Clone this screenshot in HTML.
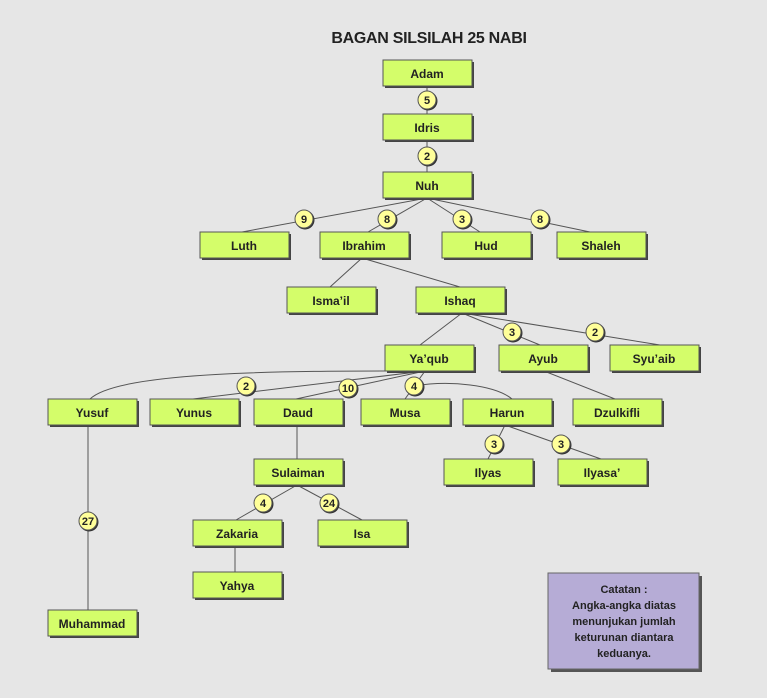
<!DOCTYPE html>
<html><head><meta charset="utf-8"><style>
html,body{margin:0;padding:0;background:#e6e6e6;}
svg{display:block;}
text{font-family:"Liberation Sans",sans-serif;font-weight:bold;fill:#222;}
</style></head><body>
<svg width="767" height="698" viewBox="0 0 767 698" xmlns="http://www.w3.org/2000/svg">
<rect width="767" height="698" fill="#e6e6e6"/>
<text x="429" y="43" text-anchor="middle" font-size="16" style="letter-spacing:-0.3px">BAGAN SILSILAH 25 NABI</text>
<g stroke="#555" stroke-width="1" fill="none">
<line x1="427" y1="86" x2="427" y2="114"/>
<line x1="427" y1="140" x2="427" y2="172"/>
<line x1="427" y1="198" x2="242" y2="232"/>
<line x1="427" y1="198" x2="368" y2="232"/>
<line x1="427" y1="198" x2="480" y2="232"/>
<line x1="427" y1="198" x2="590" y2="232"/>
<line x1="362" y1="258" x2="330" y2="287"/>
<line x1="362" y1="258" x2="460" y2="287"/>
<line x1="462" y1="313" x2="420" y2="345"/>
<line x1="462" y1="313" x2="540" y2="345"/>
<line x1="462" y1="313" x2="660" y2="345"/>
<path d="M425,371 C300,371 120,370 90,399"/>
<line x1="425" y1="371" x2="193" y2="399"/>
<line x1="425" y1="371" x2="296" y2="399"/>
<line x1="425" y1="371" x2="405" y2="399"/>
<path d="M414,386 C450,380 495,385 512,399"/>
<line x1="544" y1="371" x2="615" y2="399"/>
<line x1="505" y1="425" x2="488" y2="459"/>
<line x1="505" y1="425" x2="601" y2="459"/>
<line x1="297" y1="425" x2="297" y2="459"/>
<line x1="297" y1="485" x2="236" y2="520"/>
<line x1="297" y1="485" x2="362" y2="520"/>
<line x1="235" y1="546" x2="235" y2="572"/>
<line x1="88" y1="425" x2="88" y2="610"/>
</g>
<g font-size="12" text-anchor="middle">
<g>
<rect x="385" y="62" width="89" height="26" fill="#444"/><rect x="383" y="60" width="89" height="26" fill="#d4fd6a" stroke="#555"/><text x="427" y="78">Adam</text>
<rect x="385" y="116" width="89" height="26" fill="#444"/><rect x="383" y="114" width="89" height="26" fill="#d4fd6a" stroke="#555"/><text x="427" y="132">Idris</text>
<rect x="385" y="174" width="89" height="26" fill="#444"/><rect x="383" y="172" width="89" height="26" fill="#d4fd6a" stroke="#555"/><text x="427" y="190">Nuh</text>
<rect x="202" y="234" width="89" height="26" fill="#444"/><rect x="200" y="232" width="89" height="26" fill="#d4fd6a" stroke="#555"/><text x="244" y="250">Luth</text>
<rect x="322" y="234" width="89" height="26" fill="#444"/><rect x="320" y="232" width="89" height="26" fill="#d4fd6a" stroke="#555"/><text x="364" y="250">Ibrahim</text>
<rect x="444" y="234" width="89" height="26" fill="#444"/><rect x="442" y="232" width="89" height="26" fill="#d4fd6a" stroke="#555"/><text x="486" y="250">Hud</text>
<rect x="559" y="234" width="89" height="26" fill="#444"/><rect x="557" y="232" width="89" height="26" fill="#d4fd6a" stroke="#555"/><text x="601" y="250">Shaleh</text>
<rect x="289" y="289" width="89" height="26" fill="#444"/><rect x="287" y="287" width="89" height="26" fill="#d4fd6a" stroke="#555"/><text x="331" y="305">Isma’il</text>
<rect x="418" y="289" width="89" height="26" fill="#444"/><rect x="416" y="287" width="89" height="26" fill="#d4fd6a" stroke="#555"/><text x="460" y="305">Ishaq</text>
<rect x="387" y="347" width="89" height="26" fill="#444"/><rect x="385" y="345" width="89" height="26" fill="#d4fd6a" stroke="#555"/><text x="429" y="363">Ya’qub</text>
<rect x="501" y="347" width="89" height="26" fill="#444"/><rect x="499" y="345" width="89" height="26" fill="#d4fd6a" stroke="#555"/><text x="543" y="363">Ayub</text>
<rect x="612" y="347" width="89" height="26" fill="#444"/><rect x="610" y="345" width="89" height="26" fill="#d4fd6a" stroke="#555"/><text x="654" y="363">Syu’aib</text>
<rect x="50" y="401" width="89" height="26" fill="#444"/><rect x="48" y="399" width="89" height="26" fill="#d4fd6a" stroke="#555"/><text x="92" y="417">Yusuf</text>
<rect x="152" y="401" width="89" height="26" fill="#444"/><rect x="150" y="399" width="89" height="26" fill="#d4fd6a" stroke="#555"/><text x="194" y="417">Yunus</text>
<rect x="256" y="401" width="89" height="26" fill="#444"/><rect x="254" y="399" width="89" height="26" fill="#d4fd6a" stroke="#555"/><text x="298" y="417">Daud</text>
<rect x="363" y="401" width="89" height="26" fill="#444"/><rect x="361" y="399" width="89" height="26" fill="#d4fd6a" stroke="#555"/><text x="405" y="417">Musa</text>
<rect x="465" y="401" width="89" height="26" fill="#444"/><rect x="463" y="399" width="89" height="26" fill="#d4fd6a" stroke="#555"/><text x="507" y="417">Harun</text>
<rect x="575" y="401" width="89" height="26" fill="#444"/><rect x="573" y="399" width="89" height="26" fill="#d4fd6a" stroke="#555"/><text x="617" y="417">Dzulkifli</text>
<rect x="446" y="461" width="89" height="26" fill="#444"/><rect x="444" y="459" width="89" height="26" fill="#d4fd6a" stroke="#555"/><text x="488" y="477">Ilyas</text>
<rect x="560" y="461" width="89" height="26" fill="#444"/><rect x="558" y="459" width="89" height="26" fill="#d4fd6a" stroke="#555"/><text x="602" y="477">Ilyasa’</text>
<rect x="256" y="461" width="89" height="26" fill="#444"/><rect x="254" y="459" width="89" height="26" fill="#d4fd6a" stroke="#555"/><text x="298" y="477">Sulaiman</text>
<rect x="195" y="522" width="89" height="26" fill="#444"/><rect x="193" y="520" width="89" height="26" fill="#d4fd6a" stroke="#555"/><text x="237" y="538">Zakaria</text>
<rect x="320" y="522" width="89" height="26" fill="#444"/><rect x="318" y="520" width="89" height="26" fill="#d4fd6a" stroke="#555"/><text x="362" y="538">Isa</text>
<rect x="195" y="574" width="89" height="26" fill="#444"/><rect x="193" y="572" width="89" height="26" fill="#d4fd6a" stroke="#555"/><text x="237" y="590">Yahya</text>
<rect x="50" y="612" width="89" height="26" fill="#444"/><rect x="48" y="610" width="89" height="26" fill="#d4fd6a" stroke="#555"/><text x="92" y="628">Muhammad</text>
</g>
<g font-size="11">
<g><circle cx="428" cy="101" r="9.5" fill="#333"/><circle cx="427" cy="100" r="9" fill="#ffff99" stroke="#555"/><text x="427" y="104">5</text></g>
<g><circle cx="428" cy="157" r="9.5" fill="#333"/><circle cx="427" cy="156" r="9" fill="#ffff99" stroke="#555"/><text x="427" y="160">2</text></g>
<g><circle cx="305" cy="220" r="9.5" fill="#333"/><circle cx="304" cy="219" r="9" fill="#ffff99" stroke="#555"/><text x="304" y="223">9</text></g>
<g><circle cx="388" cy="220" r="9.5" fill="#333"/><circle cx="387" cy="219" r="9" fill="#ffff99" stroke="#555"/><text x="387" y="223">8</text></g>
<g><circle cx="463" cy="220" r="9.5" fill="#333"/><circle cx="462" cy="219" r="9" fill="#ffff99" stroke="#555"/><text x="462" y="223">3</text></g>
<g><circle cx="541" cy="220" r="9.5" fill="#333"/><circle cx="540" cy="219" r="9" fill="#ffff99" stroke="#555"/><text x="540" y="223">8</text></g>
<g><circle cx="513" cy="333" r="9.5" fill="#333"/><circle cx="512" cy="332" r="9" fill="#ffff99" stroke="#555"/><text x="512" y="336">3</text></g>
<g><circle cx="596" cy="333" r="9.5" fill="#333"/><circle cx="595" cy="332" r="9" fill="#ffff99" stroke="#555"/><text x="595" y="336">2</text></g>
<g><circle cx="247" cy="387" r="9.5" fill="#333"/><circle cx="246" cy="386" r="9" fill="#ffff99" stroke="#555"/><text x="246" y="390">2</text></g>
<g><circle cx="349" cy="389" r="9.5" fill="#333"/><circle cx="348" cy="388" r="9" fill="#ffff99" stroke="#555"/><text x="348" y="392">10</text></g>
<g><circle cx="415" cy="387" r="9.5" fill="#333"/><circle cx="414" cy="386" r="9" fill="#ffff99" stroke="#555"/><text x="414" y="390">4</text></g>
<g><circle cx="495" cy="445" r="9.5" fill="#333"/><circle cx="494" cy="444" r="9" fill="#ffff99" stroke="#555"/><text x="494" y="448">3</text></g>
<g><circle cx="562" cy="445" r="9.5" fill="#333"/><circle cx="561" cy="444" r="9" fill="#ffff99" stroke="#555"/><text x="561" y="448">3</text></g>
<g><circle cx="264" cy="504" r="9.5" fill="#333"/><circle cx="263" cy="503" r="9" fill="#ffff99" stroke="#555"/><text x="263" y="507">4</text></g>
<g><circle cx="330" cy="504" r="9.5" fill="#333"/><circle cx="329" cy="503" r="9" fill="#ffff99" stroke="#555"/><text x="329" y="507">24</text></g>
<g><circle cx="89" cy="522" r="9.5" fill="#333"/><circle cx="88" cy="521" r="9" fill="#ffff99" stroke="#555"/><text x="88" y="525">27</text></g>
</g>
</g>
<rect x="551" y="576" width="151" height="96" fill="#555"/>
<rect x="548" y="573" width="151" height="96" fill="#b6acd6" stroke="#666"/>
<g font-size="11" text-anchor="middle">
<text x="624" y="593">Catatan :</text>
<text x="624" y="609">Angka-angka diatas</text>
<text x="624" y="625">menunjukan jumlah</text>
<text x="624" y="641">keturunan diantara</text>
<text x="624" y="657">keduanya.</text>
</g>
</svg>
</body></html>
